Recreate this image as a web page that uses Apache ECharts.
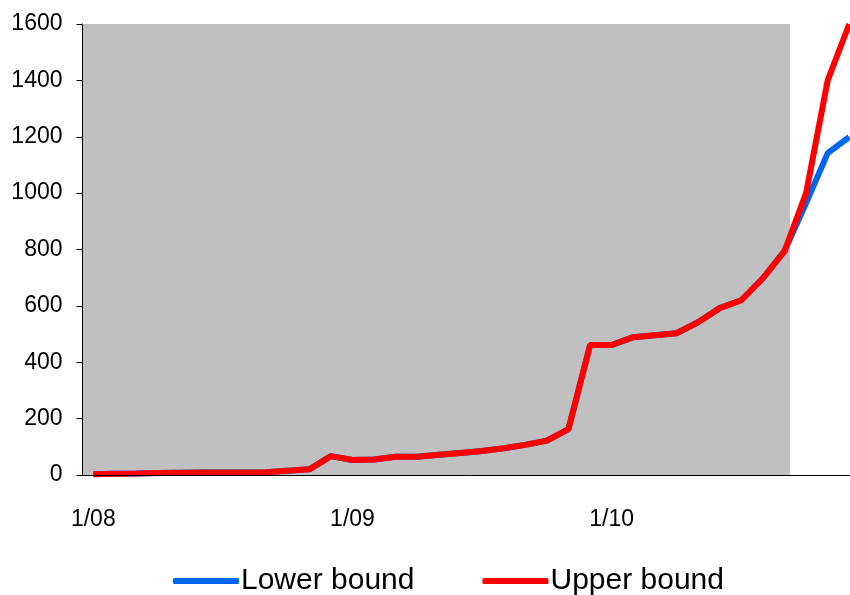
<!DOCTYPE html>
<html>
<head>
<meta charset="utf-8">
<script src="https://cdn.jsdelivr.net/npm/echarts@6/dist/echarts.min.js"></script>
<style>
  html, body { margin: 0; padding: 0; background: #fff; overflow: hidden; }
  /* the original plot runs slightly past the right edge of the picture */
  #chart { width: 870px; height: 595px; }
</style>
</head>
<body>
<div id="chart"></div>
<script>
const months = [
  "1/08", "2/08", "3/08", "4/08", "5/08", "6/08", "7/08", "8/08", "9/08", "10/08", "11/08", "12/08",
  "1/09", "2/09", "3/09", "4/09", "5/09", "6/09", "7/09", "8/09", "9/09", "10/09", "11/09", "12/09",
  "1/10", "2/10", "3/10", "4/10", "5/10", "6/10", "7/10", "8/10", "9/10", "10/10", "11/10", "12/10"
];
const lowerBound = [
  3, 4, 5, 7, 8, 9, 9, 9, 10, 15, 20, 67,
  53, 55, 65, 65, 72, 78, 85, 95, 107, 122, 163, 461,
  461, 489, 496, 503, 542, 592, 620, 698, 794, 965, 1142, 1199
];
const upperBound = [
  3, 4, 5, 7, 8, 9, 9, 9, 10, 15, 20, 67,
  53, 55, 65, 65, 72, 78, 85, 95, 107, 122, 163, 461,
  461, 489, 496, 503, 542, 592, 620, 698, 794, 1000, 1400, 1600
];
// shaded (historical) period, in category units
const shadedFrom = -0.5;
const shadedUntil = 32.25;

const chart = echarts.init(document.getElementById("chart"));
const font = "Liberation Sans, Arial, sans-serif";

chart.setOption({
  animation: false,
  grid: { left: 82.5, width: 777.6, top: 24, bottom: 120, containLabel: false },
  legend: {
    left: 168,
    top: 561,
    itemWidth: 66,
    itemHeight: 6,
    itemGap: 68,
    icon: "roundRect",
    textStyle: { fontFamily: font, fontSize: 30, color: "#000", padding: [0, 0, 0, -3] },
    data: ["Lower bound", "Upper bound"]
  },
  xAxis: [
    {
      type: "category",
      data: months,
      boundaryGap: true,
      axisLine: { lineStyle: { color: "#000", width: 1 } },
      axisTick: { show: false },
      axisLabel: {
        interval: 11,
        margin: 33,
        fontFamily: font,
        fontSize: 23,
        color: "#000"
      },
      z: 10
    },
    {
      type: "value",
      min: shadedFrom,
      max: months.length - 0.5,
      show: false
    }
  ],
  yAxis: {
    type: "value",
    min: 0,
    max: 1600,
    interval: 200,
    splitLine: { show: false },
    axisLine: { show: true, onZero: false, lineStyle: { color: "#000", width: 1 } },
    axisTick: { show: true, length: 6, lineStyle: { color: "#000" } },
    axisLabel: {
      margin: 20,
      fontFamily: font,
      fontSize: 23,
      color: "#000",
      formatter: (v) => String(v)
    },
    z: 10
  },
  series: [
    {
      name: "shade",
      type: "line",
      xAxisIndex: 1,
      data: [],
      silent: true,
      markArea: {
        silent: true,
        itemStyle: { color: "#C0C0C0" },
        data: [[{ xAxis: shadedFrom }, { xAxis: shadedUntil }]]
      },
      z: 1
    },
    {
      name: "Lower bound",
      type: "line",
      data: lowerBound,
      showSymbol: false,
      lineStyle: { color: "#0066EE", width: 6 },
      itemStyle: { color: "#0066EE" },
      z: 3
    },
    {
      name: "Upper bound",
      type: "line",
      data: upperBound,
      showSymbol: false,
      lineStyle: { color: "#FF0000", width: 6 },
      itemStyle: { color: "#FF0000" },
      z: 4
    }
  ]
});
</script>
</body>
</html>
